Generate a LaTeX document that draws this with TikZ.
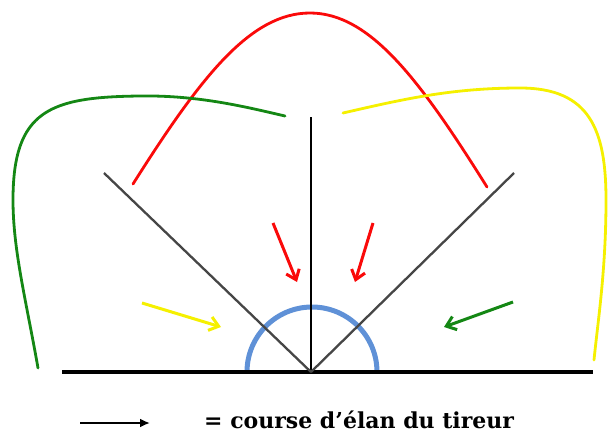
\documentclass[tikz,border=0pt]{standalone}
\usepackage{fontspec}
\newfontfamily\legendfont{DejaVu Serif}
\usetikzlibrary{arrows.meta}
\definecolor{cred}{RGB}{250,10,10}
\definecolor{cgreen}{RGB}{20,135,20}
\definecolor{cyellow}{RGB}{245,240,0}
\definecolor{cblue}{RGB}{95,145,215}
\definecolor{cgray}{RGB}{70,70,70}
\tikzset{
  ground/.style={line width=3.2pt,black},
  axis/.style={line width=2.8pt,black},
  diag/.style={line width=2.3pt,cgray},
  curve/.style={line width=2.8pt,line cap=round},
  dirarrow/.style={line width=3pt,-{Straight Barb[length=9pt,width=14pt]}},
}
\begin{document}
\begin{tikzpicture}[x=1pt,y=-1pt]
\useasboundingbox (0,0) rectangle (608,433);
% coordinates
\coordinate (O) at (311,372);
\coordinate (GL) at (62,372);
\coordinate (GR) at (593,372);
\coordinate (VT) at (311,117);
\coordinate (DL) at (104,173);
\coordinate (DR) at (514,173);
% blue arc
\draw[cblue,line width=5pt] (O) ++(-64,0) arc[start angle=180,end angle=360,radius=65];
% ground and lines
\draw[ground] (GL) -- (GR);
\draw[axis] (O) -- (VT);
\draw[diag] (O) -- (DL);
\draw[diag] (O) -- (DR);
% curves
\draw[curve,cred] (133,184) .. controls (200,78) and (250,13) .. (310,13)
  .. controls (370,13) and (420,80) .. (487,187);
\draw[curve,cgreen] (38,368) .. controls (26,300) and (13,250) .. (13,200)
  .. controls (13,110) and (50,97) .. (140,96)
  .. controls (200,95) and (250,108) .. (285,116);
\draw[curve,cyellow] (343,113) .. controls (400,100) and (450,88) .. (520,88)
  .. controls (590,88) and (606,130) .. (606,200)
  .. controls (606,270) and (598,320) .. (594,360);
% direction arrows
\coordinate (r1s) at (273,223); \coordinate (r1e) at (297,282);
\coordinate (r2s) at (373,223); \coordinate (r2e) at (355,282);
\coordinate (ys) at (142,303); \coordinate (ye) at (221,327);
\coordinate (gs) at (513,302); \coordinate (ge) at (444,327);
\draw[dirarrow,cred] (r1s) -- (r1e);
\draw[dirarrow,cred] (r2s) -- (r2e);
\draw[dirarrow,cyellow] (ys) -- (ye);
\draw[dirarrow,cgreen] (gs) -- (ge);
% legend
\coordinate (la) at (80,423);
\coordinate (lb) at (150,423);
\draw[line width=2.8pt,-{Latex[length=10pt,width=9pt]}] (la) -- (lb);
\node[anchor=base west,inner sep=0pt,font=\legendfont\bfseries\fontsize{22}{24}\selectfont] (leg) at (204,428.5) {= course d’élan du tireur};
\end{tikzpicture}
\end{document}
